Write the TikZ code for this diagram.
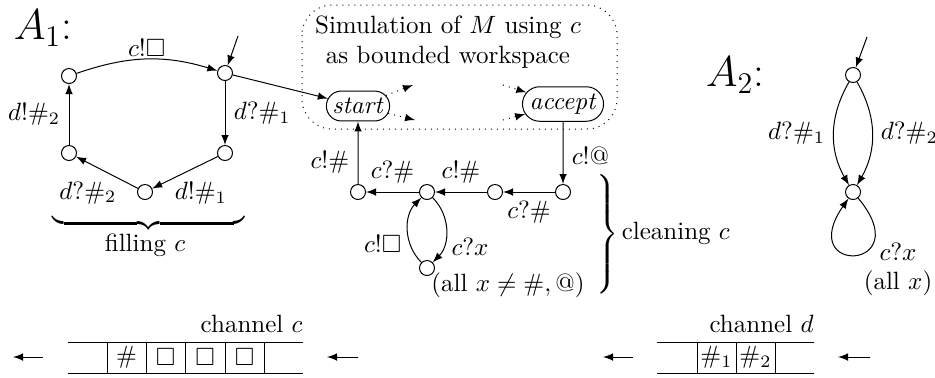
\documentclass[tikz,border=0pt]{standalone}
\usepackage{amssymb}
\usetikzlibrary{arrows,shapes.misc}

\tikzset{
	state/.style={circle, draw, inner sep=0pt, minimum size=6pt},
	phase/.style={rounded rectangle, draw, inner xsep=1.5pt, inner ysep=2.8pt},
	cell/.style={inner sep=0pt},
}

\begin{document}
\begin{tikzpicture}[x=4.0pt, y=-4.0pt, >=latex]
	%%%%% START %%%%%
	\useasboundingbox (0,0) rectangle (93.5,37.7);
	
	% automaton A_1
	\node (aone) at (4.3,2.8) {\LARGE $A_1$:};
	\node[state] (f1) at (6.9,7.6) {};
	\node[state] (f0) at (22.5,7.3) {};
	\node[state] (f2) at (22.5,15.3) {};
	\node[state] (f3) at (14.5,19.2) {};
	\node[state] (f4) at (6.9,15.3) {};
	\coordinate (f0in) at (23.8,3.6);
	
	\draw[->] (f0in) -- (f0);
	\draw[->] (f1) to[bend left=18] node[above, inner sep=1pt] {$c!\square$} (f0);
	\draw[->] (f0) -- node[right] {$d?\#_1$} (f2);
	\draw[->] (f2) -- (f3) node[pos=0.7, anchor=north west, inner sep=1pt] {$d!\#_1$};
	\draw[->] (f3) -- (f4) node[pos=0.3, anchor=north east, inner sep=1pt] {$d?\#_2$};
	\draw[->] (f4) -- node[left] {$d!\#_2$} (f1);
	
	\node[inner sep=0pt] (fbrace) at (14.85,22.3) {$\underbrace{\hspace{77pt}}$};
	\node (fill) at (14.5,24.5) {filling $c$};
	
	% simulation box
	\draw[dotted, rounded corners=12pt] (30.2,0.5) rectangle (61.7,12.9);
	\node[align=center] (sim) at (44.8,4.2) {Simulation of $M$ using $c$\\as bounded workspace};
	\node[phase] (start) at (35.8,10.6) {\textit{start}};
	\node[phase] (acc) at (56.3,10.4) {\textit{accept}};
	\draw[->] (f0) -- (start);
	
	\coordinate (s1) at (41.3,8.5);
	\coordinate (s2) at (41.5,12.0);
	\coordinate (a1) at (50.3,8.5);
	\coordinate (a2) at (50.3,12.0);
	\draw[->, dotted] (start) -- (s1);
	\draw[->, dotted] (start) -- (s2);
	\draw[->, dotted] (a1) -- (acc);
	\draw[->, dotted] (a2) -- (acc);
	
	% cleaning c
	\node[state] (k1) at (35.8,19.2) {};
	\node[state] (k2) at (42.7,19.2) {};
	\node[state] (k3) at (49.5,19.2) {};
	\node[state] (k4) at (56.3,19.2) {};
	\node[state] (k5) at (42.7,26.8) {};
	
	\draw[->] (acc) -- node[pos=0.55, right] {$c!@$} (k4);
	\draw[->] (k4) -- node[below] {$c?\#$} (k3);
	\draw[->] (k3) -- node[above] {$c!\#$} (k2);
	\draw[->] (k2) -- node[above] {$c?\#$} (k1);
	\draw[->] (k1) -- node[pos=0.35, left] {$c!\#$} (start);
	\draw[->] (k2) to[bend left=45] node[pos=0.75, right] {$c?x$} (k5);
	\draw[->] (k5) to[bend left=45] node[pos=0.3, left] {$c!\square$} (k2);
	\node[inner sep=1pt] (allx) at (50.8,28.5) {(all $x\neq\#,@$)};
	
	\node[inner sep=0pt, anchor=east] (kbrace) at (61.9,23.4) {$\left.\vrule height 21pt depth 21pt width 0pt\right\}$};
	\node[anchor=west, inner sep=0.5pt] (clean) at (62.0,23.3) {cleaning $c$};
	
	% automaton A_2
	\node (atwo) at (73.5,7.5) {\LARGE $A_2$:};
	\node[state] (g0) at (85.3,7.5) {};
	\node[state] (g1) at (85.3,19.2) {};
	\coordinate (g0in) at (86.7,3.7);
	
	\draw[->] (g0in) -- (g0);
	\draw[->] (g0) to[bend right=30] node[left] {$d?\#_1$} (g1);
	\draw[->] (g0) to[bend left=30] node[right] {$d?\#_2$} (g1);
	\draw[->] (g1) to[out=-50, in=-125, min distance=38pt] (g1);
	\node (gx) at (89.8,25.2) {$c?x$};
	\node (gall) at (89.8,28.3) {(all $x$)};
	
	% channel c
	\draw (6.8,34.2) -- (30.3,34.2) (6.8,37.3) -- (30.3,37.3);
	\foreach \x in {10.7,14.6,18.5,22.5,26.4}
		\draw (\x,34.2) -- (\x,37.3);
	\node[cell] at (12.65,35.75) {$\#$};
	\foreach \x in {16.55,20.5,24.45}
		\node[cell] at (\x,35.75) {$\square$};
	\node[anchor=base east, inner sep=0pt] (chc) at (30.3,33.2) {channel $c$};
	\draw[->] (4.3,35.7) -- (1.3,35.7);
	\draw[->] (35.8,35.7) -- (32.7,35.7);
	
	% channel d
	\draw (65.7,34.2) -- (81.4,34.2) (65.7,37.3) -- (81.4,37.3);
	\foreach \x in {69.7,73.6,77.5}
		\draw (\x,34.2) -- (\x,37.3);
	\node[cell] at (71.65,35.75) {$\#_1$};
	\node[cell] at (75.55,35.75) {$\#_2$};
	\node[anchor=base east, inner sep=0pt] (chd) at (81.4,33.2) {channel $d$};
	\draw[->] (63.3,35.7) -- (60.3,35.7);
	\draw[->] (87.0,35.7) -- (83.8,35.7);
	
	%%%%% END %%%%%
\end{tikzpicture}
\end{document}
